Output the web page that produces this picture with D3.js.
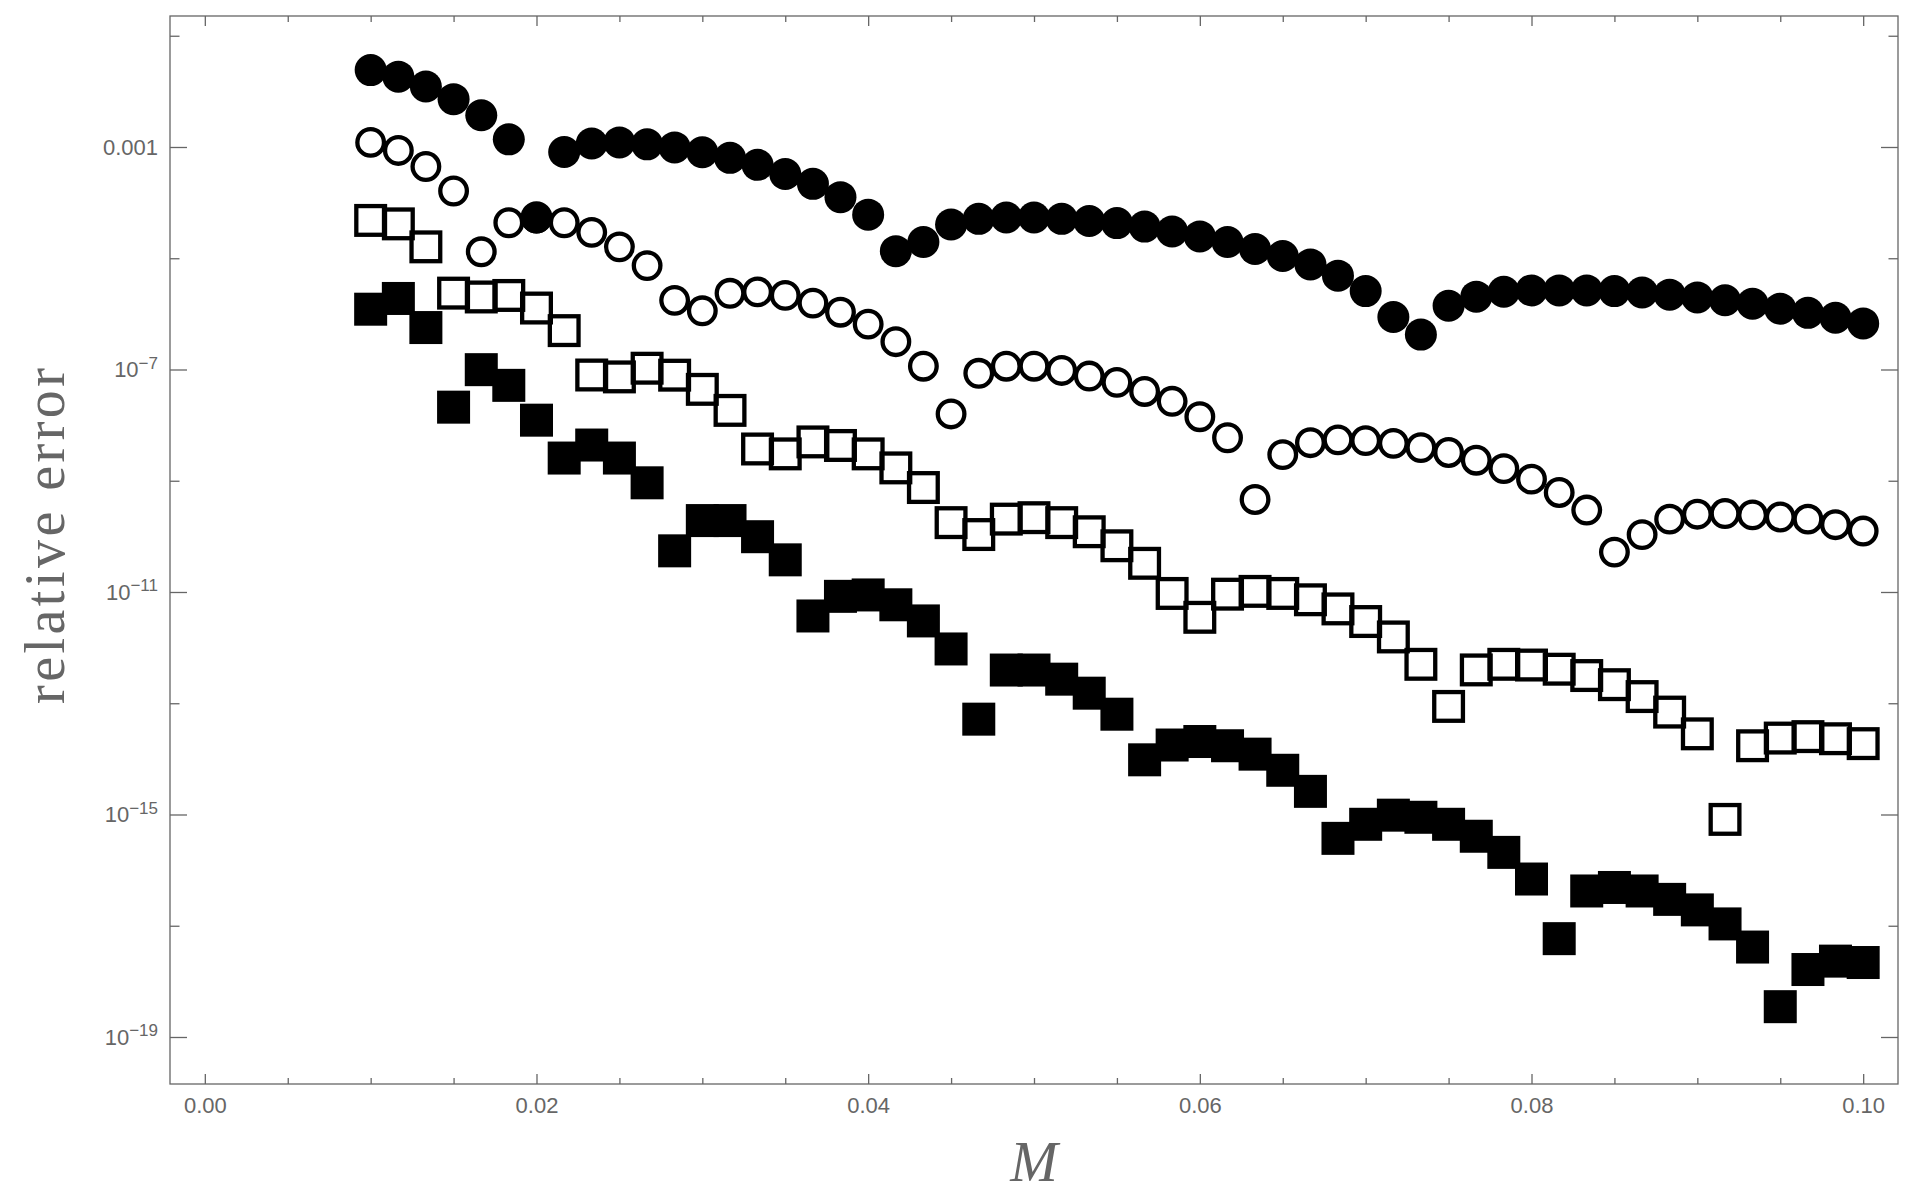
<!DOCTYPE html>
<html>
<head>
<meta charset="utf-8">
<script src="https://cdn.jsdelivr.net/npm/d3@7"></script>
<style>
	html, body { margin: 0; padding: 0; background: #fff; }
	svg { display: block; }
</style>
</head>
<body>
<svg id="svg" width="1922" height="1195"></svg>
<script>
// Mass values M (x axis) and log10 of the relative error for each series.
var massM = [
	0.01000, 0.01167, 0.01333, 0.01500, 0.01667, 0.01833, 0.02000, 0.02167, 0.02333, 0.02500, 0.02667,
	0.02833, 0.03000, 0.03167, 0.03333, 0.03500, 0.03667, 0.03833, 0.04000, 0.04167, 0.04333, 0.04500,
	0.04667, 0.04833, 0.05000, 0.05167, 0.05333, 0.05500, 0.05667, 0.05833, 0.06000, 0.06167, 0.06333,
	0.06500, 0.06667, 0.06833, 0.07000, 0.07167, 0.07333, 0.07500, 0.07667, 0.07833, 0.08000, 0.08167,
	0.08333, 0.08500, 0.08667, 0.08833, 0.09000, 0.09167, 0.09333, 0.09500, 0.09667, 0.09833, 0.10000
];

var logFilledCircles = [
	-1.618, -1.735, -1.913, -2.140, -2.429, -2.862, -4.265, -3.089, -2.938, -2.917, -2.952,
	-3.007, -3.094, -3.195, -3.321, -3.485, -3.662, -3.902, -4.216, -4.872, -4.708, -4.393,
	-4.292, -4.267, -4.267, -4.292, -4.330, -4.368, -4.431, -4.519, -4.607, -4.708, -4.834,
	-4.960, -5.111, -5.313, -5.590, -6.057, -6.372, -5.855, -5.691, -5.603, -5.578, -5.578,
	-5.578, -5.590, -5.616, -5.654, -5.704, -5.755, -5.818, -5.906, -5.982, -6.070, -6.171
];

var logOpenCircles = [
	-2.917, -3.062, -3.351, -3.791, -4.884, -4.362, -4.280, -4.362, -4.534, -4.795, -5.132,
	-5.757, -5.945, -5.630, -5.605, -5.668, -5.806, -5.970, -6.185, -6.500, -6.941, -7.799,
	-7.068, -6.941, -6.941, -7.017, -7.118, -7.231, -7.395, -7.572, -7.849, -8.227, -9.337,
	-8.530, -8.316, -8.265, -8.278, -8.328, -8.404, -8.492, -8.631, -8.782, -8.971, -9.211,
	-9.527, -10.283, -9.968, -9.690, -9.601, -9.589, -9.614, -9.652, -9.690, -9.790, -9.904
];

var logOpenSquares = [
	-4.320, -4.382, -4.795, -5.627, -5.696, -5.669, -5.895, -6.301, -7.099, -7.133, -6.977,
	-7.102, -7.357, -7.735, -8.429, -8.517, -8.302, -8.366, -8.517, -8.769, -9.122, -9.753,
	-9.967, -9.690, -9.664, -9.753, -9.917, -10.169, -10.484, -11.026, -11.455, -11.039, -10.989,
	-11.026, -11.140, -11.304, -11.531, -11.808, -12.300, -13.057, -12.401, -12.300, -12.313, -12.388,
	-12.502, -12.666, -12.880, -13.159, -13.550, -15.088, -13.764, -13.626, -13.600, -13.638, -13.726
];

var logFilledSquares = [
	-5.916, -5.723, -6.246, -7.677, -7.003, -7.285, -7.911, -8.592, -8.358, -8.592, -9.037,
	-10.260, -9.716, -9.716, -10.006, -10.422, -11.431, -11.078, -11.053, -11.230, -11.520, -12.024,
	-13.286, -12.403, -12.403, -12.567, -12.819, -13.197, -14.017, -13.751, -13.688, -13.764, -13.915,
	-14.205, -14.584, -15.429, -15.176, -15.012, -15.050, -15.176, -15.391, -15.681, -16.160, -17.232,
	-16.375, -16.312, -16.375, -16.526, -16.715, -16.967, -17.383, -18.455, -17.787, -17.636, -17.661
];

// tick positions
var xMajorTicks = [0, 0.02, 0.04, 0.06, 0.08, 0.10];
var xMinorTicks = [0.005, 0.01, 0.015, 0.025, 0.03, 0.035, 0.045, 0.05, 0.055, 0.065, 0.07, 0.075, 0.085, 0.09, 0.095];
var yMajorExps = [-3, -7, -11, -15, -19];
var yMinorExps = [-1, -5, -9, -13, -17];


var RE = {};

RE.gray = '#666';
RE.frame = { left: 170, right: 1898, top: 16, bottom: 1084 };

RE.x = d3.scaleLinear()
	.domain([-0.0021, 0.1021])
	.range([RE.frame.left, RE.frame.right]);

RE.y = d3.scaleLog()
	.domain([Math.pow(10, -19.845), Math.pow(10, -0.645)])
	.range([RE.frame.bottom, RE.frame.top]);

RE.pow10 = function(e){ return Math.pow(10, e); };

RE.series = function(logs){
	return logs.map(function(e, i){
		return { m: massM[i], err: RE.pow10(e) };
	});
};

RE.drawFrame = function(svg){
	var f = RE.frame,
		w = f.right - f.left,
		h = f.bottom - f.top;

	svg.append('rect')
		.attr('x', f.left)
		.attr('y', f.top)
		.attr('width', w)
		.attr('height', h)
		.attr('fill', 'none')
		.attr('stroke', RE.gray)
		.attr('stroke-width', 1.3);

	// inward ticks on every side, labels only bottom and left
	var addAxis = function(axis, tx, ty, keepLabels){
		var g = svg.append('g')
			.attr('transform', 'translate(' + tx + ',' + ty + ')')
			.call(axis);
		g.select('.domain').remove();
		g.selectAll('line').attr('stroke', RE.gray).attr('stroke-width', 1.3);
		if (!keepLabels) g.selectAll('text').remove();
		return g;
	};

	var xLabels = addAxis(d3.axisBottom(RE.x).tickValues(xMajorTicks).tickSize(-10).tickPadding(13).tickFormat(d3.format('.2f')), 0, f.bottom, true);
	xLabels.selectAll('text')
		.attr('fill', RE.gray)
		.style('font', '22px "Liberation Sans", Arial, sans-serif');
	addAxis(d3.axisBottom(RE.x).tickValues(xMinorTicks).tickSize(-6), 0, f.bottom, false);
	addAxis(d3.axisTop(RE.x).tickValues(xMajorTicks).tickSize(-10), 0, f.top, false);
	addAxis(d3.axisTop(RE.x).tickValues(xMinorTicks).tickSize(-6), 0, f.top, false);

	var yLabels = addAxis(d3.axisLeft(RE.y).tickValues(yMajorExps.map(RE.pow10)).tickSize(-17).tickPadding(12).tickFormat(function(){ return ''; }), f.left, 0, true);
	addAxis(d3.axisLeft(RE.y).tickValues(yMinorExps.map(RE.pow10)).tickSize(-9.5), f.left, 0, false);
	addAxis(d3.axisRight(RE.y).tickValues(yMajorExps.map(RE.pow10)).tickSize(-17), f.right, 0, false);
	addAxis(d3.axisRight(RE.y).tickValues(yMinorExps.map(RE.pow10)).tickSize(-9.5), f.right, 0, false);

	// 0.001 then 10^-n with a raised exponent
	yLabels.selectAll('text')
		.attr('fill', RE.gray)
		.style('font', '22px "Liberation Sans", Arial, sans-serif')
		.each(function(d){
			var t = d3.select(this),
				e = Math.round(Math.log10(d));
			if (e === -3){
				t.text('0.001');
				return;
			}
			t.append('tspan').text('10');
			t.append('tspan')
				.attr('dy', '-0.5em')
				.style('font-size', '17px')
				.text('\u2212' + Math.abs(e));
		});

	svg.append('text')
		.attr('transform', 'translate(64,536) rotate(-90)')
		.attr('text-anchor', 'middle')
		.attr('fill', RE.gray)
		.attr('textLength', 336)
		.attr('lengthAdjust', 'spacing')
		.style('font', '56px "Liberation Serif", "Times New Roman", serif')
		.text('relative error');

	svg.append('text')
		.attr('x', (f.left + f.right) / 2)
		.attr('y', 1181)
		.attr('text-anchor', 'middle')
		.attr('fill', RE.gray)
		.style('font', 'italic 57px "Liberation Serif", "Times New Roman", serif')
		.text('M');
};

RE.drawSeries = function(svg){
	var x = RE.x, y = RE.y;

	svg.append('g').selectAll('circle')
		.data(RE.series(logFilledCircles))
		.enter()
		.append('circle')
		.attr('cx', function(d){ return x(d.m); })
		.attr('cy', function(d){ return y(d.err); })
		.attr('r', 16)
		.attr('fill', '#000');

	svg.append('g').selectAll('circle')
		.data(RE.series(logOpenCircles))
		.enter()
		.append('circle')
		.attr('cx', function(d){ return x(d.m); })
		.attr('cy', function(d){ return y(d.err); })
		.attr('r', 13.3)
		.attr('fill', 'none')
		.attr('stroke', '#000')
		.attr('stroke-width', 4.3);

	var openSide = 28.7;
	svg.append('g').selectAll('rect')
		.data(RE.series(logOpenSquares))
		.enter()
		.append('rect')
		.attr('x', function(d){ return x(d.m) - openSide / 2; })
		.attr('y', function(d){ return y(d.err) - openSide / 2; })
		.attr('width', openSide)
		.attr('height', openSide)
		.attr('fill', 'none')
		.attr('stroke', '#000')
		.attr('stroke-width', 4.3);

	var side = 33;
	svg.append('g').selectAll('rect')
		.data(RE.series(logFilledSquares))
		.enter()
		.append('rect')
		.attr('x', function(d){ return x(d.m) - side / 2; })
		.attr('y', function(d){ return y(d.err) - side / 2; })
		.attr('width', side)
		.attr('height', side)
		.attr('fill', '#000');
};

var svg = d3.select('#svg');
RE.drawFrame(svg);
RE.drawSeries(svg);
</script>
</body>
</html>
